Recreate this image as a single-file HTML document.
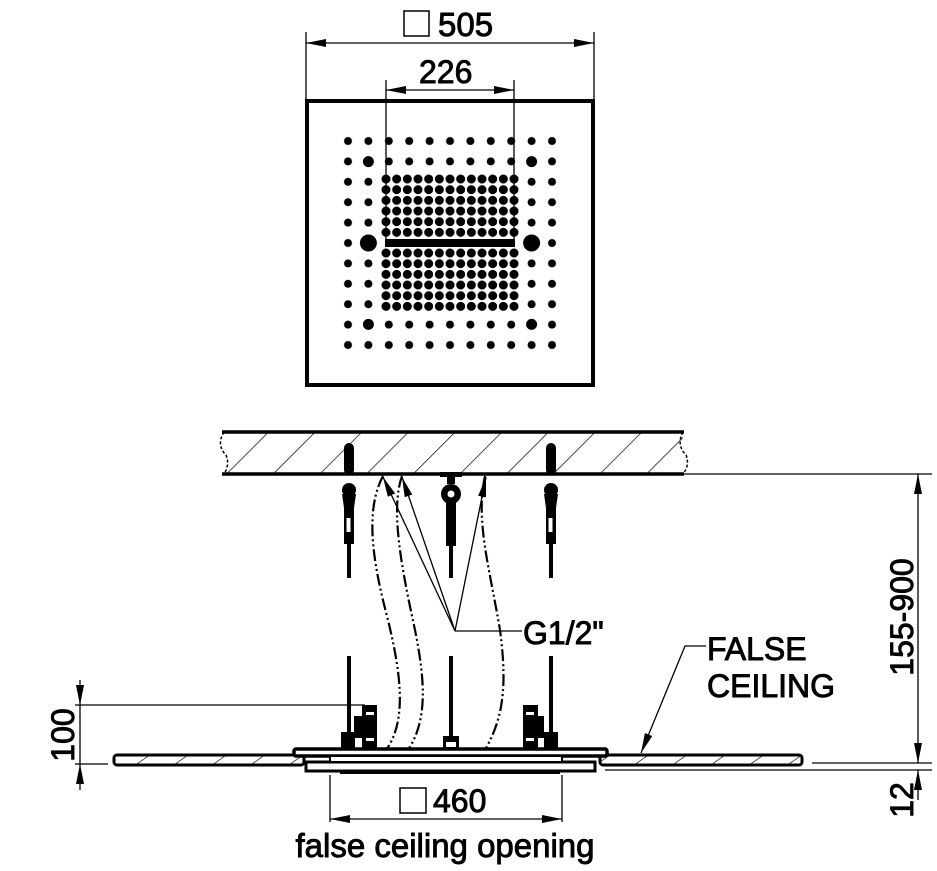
<!DOCTYPE html>
<html><head><meta charset="utf-8"><style>
html,body{margin:0;padding:0;background:#fff;}
svg{display:block;}
text{font-family:"Liberation Sans",Arial,sans-serif;fill:#000;stroke:#000;stroke-width:0.9;}
</style></head><body>
<svg width="937" height="871" viewBox="0 0 937 871" xmlns="http://www.w3.org/2000/svg">
<defs>
<pattern id="outer" x="337.8" y="130.8" width="20.4" height="20.4" patternUnits="userSpaceOnUse">
<circle cx="10.2" cy="10.2" r="4" fill="#000"/></pattern>
<pattern id="inner" x="380.67" y="173.67" width="10.667" height="10.667" patternUnits="userSpaceOnUse">
<circle cx="5.333" cy="5.333" r="4.5" fill="#000"/></pattern>
<pattern id="inner2" x="380.67" y="247.67" width="10.667" height="10.667" patternUnits="userSpaceOnUse">
<circle cx="5.333" cy="5.333" r="4.5" fill="#000"/></pattern>
<pattern id="hatch" width="33" height="33" patternUnits="userSpaceOnUse" patternTransform="rotate(45)">
<line x1="0" y1="0" x2="0" y2="33" stroke="#000" stroke-width="1.4"/></pattern>
<pattern id="hatch2" width="22" height="22" patternUnits="userSpaceOnUse" patternTransform="rotate(55)">
<line x1="0" y1="0" x2="0" y2="22" stroke="#000" stroke-width="1.3"/></pattern>
<marker id="ar" viewBox="0 0 20 8" refX="20" refY="4" markerWidth="20" markerHeight="8" markerUnits="userSpaceOnUse" orient="auto">
<path d="M0,0 L20,4 L0,8 Z" fill="#000"/></marker>
<marker id="ar2" viewBox="0 0 20 8" refX="20" refY="4" markerWidth="20" markerHeight="8" markerUnits="userSpaceOnUse" orient="auto-start-reverse">
<path d="M0,0 L20,4 L0,8 Z" fill="#000"/></marker>
</defs>

<rect x="307" y="101" width="286" height="284" fill="none" stroke="#000" stroke-width="4"/>
<rect x="337.8" y="130.8" width="224.4" height="224.4" fill="url(#outer)"/>
<rect x="378" y="172" width="144" height="143" fill="#fff"/>
<rect x="380.67" y="173.67" width="138.67" height="64" fill="url(#inner)"/>
<rect x="380.67" y="247.67" width="138.67" height="64" fill="url(#inner2)"/>
<rect x="385" y="239" width="130" height="8" fill="#000"/>
<circle cx="368.4" cy="161.6" r="5.5"/><circle cx="531.6" cy="161.6" r="5.5"/>
<circle cx="368.4" cy="324.4" r="5.5"/><circle cx="531.6" cy="324.4" r="5.5"/>
<circle cx="368.4" cy="243" r="8.5"/><circle cx="531.6" cy="243" r="8.5"/>

<g stroke="#000" stroke-width="1.3" fill="none">
<line x1="306" y1="32" x2="306" y2="100"/><line x1="594" y1="32" x2="594" y2="100"/>
<line x1="306" y1="43" x2="594" y2="43" marker-start="url(#ar2)" marker-end="url(#ar)"/>
<rect x="404" y="11" width="25" height="25" stroke-width="1.5"/>
<line x1="386" y1="80" x2="386" y2="243"/><line x1="514" y1="80" x2="514" y2="243"/>
<line x1="386" y1="90" x2="514" y2="90" marker-start="url(#ar2)" marker-end="url(#ar)"/>
</g>
<text x="438" y="36" font-size="33">505</text>
<text x="419" y="83" font-size="32">226</text>

<rect x="223" y="432" width="460" height="41" fill="url(#hatch)"/>
<line x1="222" y1="432" x2="684" y2="432" stroke="#000" stroke-width="3.5"/>
<line x1="222" y1="474" x2="684" y2="474" stroke="#000" stroke-width="3.5"/>
<path d="M224,432 Q216,445 226,455 Q230,465 224,474" fill="none" stroke="#000" stroke-width="1.5" stroke-dasharray="3,2"/>
<rect x="684" y="430" width="10" height="46" fill="#fff"/>
<path d="M683,432 Q676,445 686,455 Q690,465 683,474" fill="none" stroke="#000" stroke-width="1.5" stroke-dasharray="3,2"/>

<g fill="#000">
<rect x="344" y="443" width="10" height="32" rx="5"/>
<circle cx="349" cy="490" r="7"/>
<path d="M342,494 L356,494 L354,508 L344,508 Z"/>
<rect x="344" y="506" width="10" height="38"/>
<rect x="346.5" y="518" width="4" height="14" fill="#fff"/>
<rect x="347" y="544" width="4" height="34"/>
<rect x="546" y="443" width="10" height="32" rx="5"/>
<circle cx="551" cy="490" r="7"/>
<path d="M544,494 L558,494 L556,508 L546,508 Z"/>
<rect x="546" y="506" width="10" height="38"/>
<rect x="548.5" y="518" width="4" height="14" fill="#fff"/>
<rect x="549" y="544" width="4" height="34"/>
<rect x="440" y="472" width="22" height="5"/>
<rect x="447" y="476" width="8" height="8"/>
<circle cx="451" cy="494" r="10"/>
<circle cx="451" cy="494" r="3.5" fill="#fff"/>
<rect x="446" y="500" width="10" height="46"/>
<rect x="449" y="546" width="4" height="32"/>
<rect x="347" y="656" width="4" height="86"/>
<rect x="449" y="656" width="4" height="80"/>
<rect x="549" y="656" width="4" height="86"/>
<rect x="362" y="705" width="15" height="45"/>
<rect x="354" y="716" width="12" height="22"/>
<rect x="341" y="732" width="14" height="18"/>
<rect x="366" y="712" width="8" height="3" fill="#fff"/>
<rect x="366" y="738" width="8" height="3" fill="#fff"/>
<rect x="523" y="705" width="15" height="45"/>
<rect x="532" y="716" width="12" height="22"/>
<rect x="544" y="732" width="14" height="18"/>
<rect x="526" y="712" width="8" height="3" fill="#fff"/>
<rect x="526" y="738" width="8" height="3" fill="#fff"/>
<rect x="443" y="736" width="16" height="14"/>
<rect x="446" y="742" width="10" height="5" fill="#fff"/>
</g>

<g fill="none" stroke="#000" stroke-width="2.2" stroke-dasharray="12,3,2,3,2,3">
<path d="M383,476 C365,510 372,560 388,620 C400,670 408,720 386,750"/>
<path d="M402,476 C390,510 402,570 415,630 C425,680 428,720 408,750"/>
<path d="M485,476 C475,520 490,570 500,630 C508,690 502,720 485,750"/>
</g>
<g stroke="#000" stroke-width="1.3" fill="none">
<line x1="455" y1="631" x2="383" y2="477" marker-end="url(#ar)"/>
<line x1="455" y1="631" x2="402" y2="477" marker-end="url(#ar)"/>
<line x1="455" y1="631" x2="486" y2="477" marker-end="url(#ar)"/>
<line x1="455" y1="631" x2="522" y2="631"/>
</g>
<text x="523" y="644" font-size="32">G1/2"</text>

<rect x="114" y="755" width="190" height="10" rx="3" fill="url(#hatch2)" stroke="#000" stroke-width="3"/>
<rect x="600" y="755" width="202" height="10" rx="3" fill="url(#hatch2)" stroke="#000" stroke-width="3"/>
<rect x="294" y="749" width="313" height="7" rx="2" fill="#fff" stroke="#000" stroke-width="3.5"/>
<rect x="306" y="762" width="289" height="9" fill="#fff" stroke="#000" stroke-width="3"/>
<rect x="330" y="756" width="232" height="6" fill="#fff" stroke="#000" stroke-width="2"/>
<g fill="#000"><rect x="340" y="771" width="220" height="3"/></g>

<g stroke="#000" stroke-width="1.3" fill="none">
<polyline points="706,646 685,646 641,753" marker-end="url(#ar)"/>
</g>
<text x="707" y="660" font-size="32">FALSE</text>
<text x="707" y="697" font-size="32">CEILING</text>

<g stroke="#000" stroke-width="1.3" fill="none">
<line x1="682" y1="474" x2="932" y2="474"/>
<line x1="812" y1="763" x2="932" y2="763"/>
<line x1="605" y1="770" x2="932" y2="770"/>
<line x1="918" y1="474" x2="918" y2="763" marker-start="url(#ar2)" marker-end="url(#ar)"/>
<line x1="918" y1="800" x2="918" y2="770" marker-end="url(#ar)"/>
<line x1="75" y1="705" x2="365" y2="705"/>
<line x1="75" y1="764" x2="108" y2="764"/>
<line x1="80" y1="705" x2="80" y2="764"/>
<line x1="80" y1="680" x2="80" y2="705" marker-end="url(#ar)"/>
<line x1="80" y1="790" x2="80" y2="764" marker-end="url(#ar)"/>
<line x1="330" y1="775" x2="330" y2="822"/><line x1="562" y1="775" x2="562" y2="822"/>
<line x1="330" y1="819" x2="562" y2="819" marker-start="url(#ar2)" marker-end="url(#ar)"/>
<rect x="400" y="788" width="26" height="25" stroke-width="1.5"/>
</g>
<text transform="translate(913,617) rotate(-90)" font-size="32" text-anchor="middle">155-900</text>
<text transform="translate(913,800) rotate(-90)" font-size="32" text-anchor="middle">12</text>
<text transform="translate(74,735) rotate(-90)" font-size="32" text-anchor="middle">100</text>
<text x="433" y="812" font-size="32">460</text>
<text x="445" y="857" font-size="33" text-anchor="middle">false ceiling opening</text>
</svg>
</body></html>
